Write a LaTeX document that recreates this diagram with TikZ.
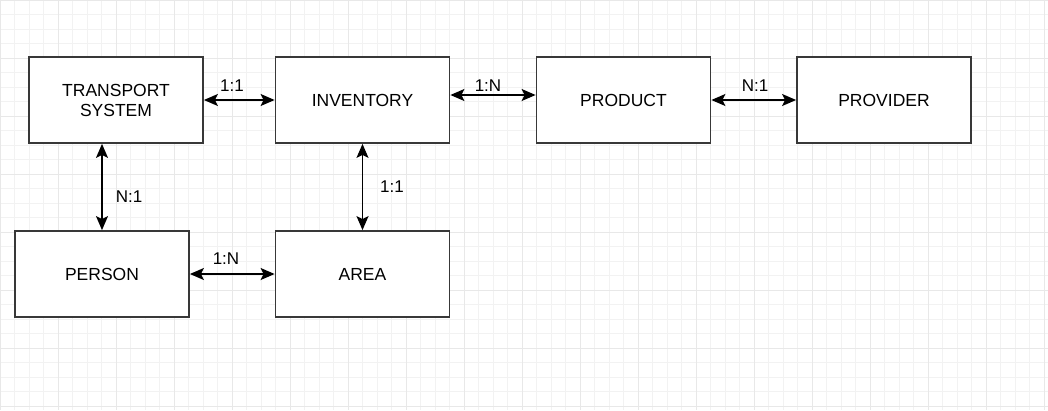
\documentclass[tikz,border=0pt]{standalone}
\usepackage{fontspec}
\setmainfont{Liberation Sans}
\usetikzlibrary{positioning,arrows.meta}

\begin{document}
\begin{tikzpicture}[
    x=1pt, y=-1pt,
    entity/.style={draw=black!78, line width=1.8pt, fill=white, minimum width=174pt,
                   minimum height=86pt, align=center, inner sep=2pt,
                   font=\fontsize{17.5}{20}\selectfont},
    card/.style ={font=\fontsize{17}{20}\selectfont, inner sep=1pt},
    rel/.style  ={{Stealth[length=14pt,width=12pt,inset=3pt]}-{Stealth[length=14pt,width=12pt,inset=3pt]}, line width=1.5pt}
  ]
    \useasboundingbox (0,0) rectangle (1048,410);
    \fill[white] (0,0) rectangle (1048,410);

    % background grid
    \foreach \i in {0,...,72} \draw[black!5, line width=0.6pt] (\i*14.5,0) -- (\i*14.5,410);
    \foreach \i in {0,...,28} \draw[black!5, line width=0.6pt] (0,\i*14.5) -- (1048,\i*14.5);
    \foreach \i in {0,...,18} \draw[black!9, line width=0.7pt] (\i*58,0) -- (\i*58,410);
    \foreach \i in {0,...,7} \draw[black!9, line width=0.7pt] (0,\i*58) -- (1048,\i*58);

    % entities
    \node[entity] (TS)   at (116,100)   {TRANSPORT\\SYSTEM};
    \node[entity] (INV)  at (362.5,100) {INVENTORY};
    \node[entity] (PROD) at (623.5,100) {PRODUCT};
    \node[entity] (PROV) at (884,100)   {PROVIDER};
    \node[entity] (PER)  at (102,274)   {PERSON};
    \node[entity] (AREA) at (362.5,274) {AREA};

    % relations
    \draw[rel] (TS) -- (INV);
    \draw[rel] ([yshift=5pt]INV.east) -- ([yshift=5pt]PROD.west);
    \draw[rel] (PROD) -- (PROV);
    \draw[rel] (TS.south -| PER.north) -- (PER.north);
    \draw[rel] (INV) -- (AREA);
    \draw[rel] (PER) -- (AREA);

    % cardinalities
    \node[card] (c1) at (232,86)  {1:1};
    \node[card] (c2) at (488,86)  {1:N};
    \node[card] (c3) at (755,86)  {N:1};
    \node[card] (c4) at (129,197) {N:1};
    \node[card] (c5) at (392,187) {1:1};
    \node[card] (c6) at (226,259) {1:N};
  \end{tikzpicture}
\end{document}
